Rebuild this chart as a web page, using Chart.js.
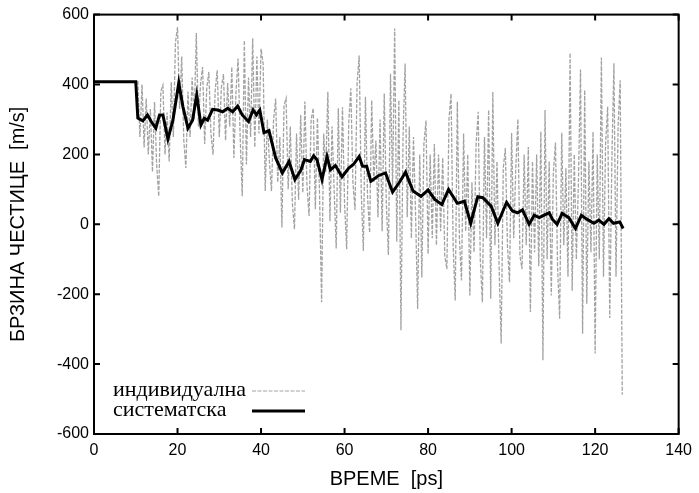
<!DOCTYPE html>
<html>
<head>
<meta charset="utf-8">
<script src="https://cdn.jsdelivr.net/npm/chart.js@4.4.1/dist/chart.umd.min.js"></script>
<style>
  html, body { margin: 0; padding: 0; background: #fff; }
  #wrap { width: 699px; height: 493px; }
</style>
</head>
<body>
<div id="wrap"><canvas id="speedChart" width="699" height="493"></canvas></div>
<script>
// systematic (averaged) particle speed
const sysTime = [0, 10, 10.5, 11.7, 12.8, 13.7, 14.8, 15.7, 16.5, 17.7, 18.9, 20.3, 21.3, 22.5, 23.6, 24.6, 25.6, 26.4, 27.2, 28.4,
  29.6, 30.8, 32, 33.2, 34.4, 35.5, 37, 38.1, 38.9, 39.7, 40.7, 41.9, 43.5, 45.1, 46.7, 48.1, 49.5, 50.4, 51.8, 52.6,
  53.4, 54.6, 55.8, 56.6, 57.8, 59.4, 61, 62.1, 63.5, 64.3, 65.3, 66.3, 68.1, 69.8, 71.5, 73.3, 74.6, 76.4, 78.3, 80,
  81.6, 83.3, 84.9, 87, 88.7, 90.2, 91.9, 93.1, 95.1, 96.7, 98.8, 100.2, 101.4, 102.6, 104.2, 105.4, 106.6, 107.8, 109, 109.8,
  110.9, 112.1, 113.7, 115.3, 116.7, 118.1, 119.7, 120.9, 122.1, 123.3, 124.4, 125.9, 126.7];
const sysSpeed = [408, 408, 304, 296, 313, 294, 275, 313, 313, 244, 298, 405, 336, 275, 298, 370, 284, 303, 298, 329,
  327, 322, 332, 322, 338, 313, 294, 327, 313, 327, 262, 268, 190, 147, 180, 128, 154, 185, 180, 196,
  185, 128, 194, 156, 168, 136, 161, 171, 194, 166, 166, 123, 139, 147, 92, 123, 149, 95, 80, 98,
  71, 57, 100, 60, 66, 3, 79, 76, 52, 3, 63, 38, 33, 41, 0, 26, 19, 26, 33, 14,
  0, 31, 19, -12, 26, 14, 3, 12, 0, 16, 3, 7, -12];

// individual particle speed
const indTime = [0, 10,
  10.5, 11, 11.5, 12, 12.5, 13, 13.5, 14, 14.5, 15, 15.5, 16, 16.5, 17, 17.5, 18, 18.5, 19, 19.5, 20,
  20.5, 21, 21.5, 22, 22.5, 23, 23.5, 24, 24.5, 25, 25.5, 26, 26.5, 27, 27.5, 28, 28.5, 29, 29.5, 30,
  30.5, 31, 31.5, 32, 32.5, 33, 33.5, 34, 34.5, 35, 35.5, 36, 36.5, 37, 37.5, 38, 38.5, 39, 39.5, 40,
  40.5, 41, 41.5, 42, 42.5, 43, 43.5, 44, 44.5, 45, 45.5, 46, 46.5, 47, 47.5, 48, 48.5, 49, 49.5, 50,
  50.5, 51, 51.5, 52, 52.5, 53, 53.5, 54, 54.5, 55, 55.5, 56, 56.5, 57, 57.5, 58, 58.5, 59, 59.5, 60,
  60.5, 61, 61.5, 62, 62.5, 63, 63.5, 64, 64.5, 65, 65.5, 66, 66.5, 67, 67.5, 68, 68.5, 69, 69.5, 70,
  70.5, 71, 71.5, 72, 72.5, 73, 73.5, 74, 74.5, 75, 75.5, 76, 76.5, 77, 77.5, 78, 78.5, 79, 79.5, 80,
  80.5, 81, 81.5, 82, 82.5, 83, 83.5, 84, 84.5, 85, 85.5, 86, 86.5, 87, 87.5, 88, 88.5, 89, 89.5, 90,
  90.5, 91, 91.5, 92, 92.5, 93, 93.5, 94, 94.5, 95, 95.5, 96, 96.5, 97, 97.5, 98, 98.5, 99, 99.5, 100,
  100.5, 101, 101.5, 102, 102.5, 103, 103.5, 104, 104.5, 105, 105.5, 106, 106.5, 107, 107.5, 108, 108.5, 109, 109.5, 110,
  110.5, 111, 111.5, 112, 112.5, 113, 113.5, 114, 114.5, 115, 115.5, 116, 116.5, 117, 117.5, 118, 118.5, 119, 119.5, 120,
  120.5, 121, 121.5, 122, 122.5, 123, 123.5, 124, 124.5, 125, 125.5, 126, 126.5];
const indSpeed = [408, 408,
  410, 250, 400, 220, 360, 200, 330, 150, 350, 170, 80, 380, 398, 200, 320, 180, 407, 250, 520, 564,
  330, 480, 240, 161, 380, 250, 420, 300, 547, 280, 400, 450, 230, 390, 436, 260, 199, 380, 441, 250,
  390, 430, 240, 404, 280, 450, 190, 380, 474, 250, 80, 526, 171, 420, 250, 532, 220, 480, 260, 502,
  460, 95, 300, 180, 95, 300, 360, 120, 250, -9, 340, 360, 100, 280, 60, -14, 260, 70, 313, 90,
  351, 110, 24, 300, 332, 43, 305, 90, -223, 260, 150, 379, 9, 280, 100, -69, 332, 33, 335, 60,
  -71, 290, 389, 120, 41, 405, 483, 90, -76, 365, 80, -24, 355, 120, 240, 20, 300, -20, 374, 60,
  -88, 431, 100, 560, -50, 355, -303, 250, 460, 20, 280, -40, 250, 30, -242, 200, -152, 230, 297, -85,
  200, -40, 230, -60, 200, -20, 190, -90, -128, 300, 374, -60, -218, 351, -40, -161, 260, -20, 200, -204,
  120, -80, 230, 322, -100, -223, 250, -40, 327, -213, 379, -60, 180, -120, -341, 160, 218, -60, -166, 261,
  -40, 160, 301, -90, -128, 200, -60, 221, -251, 180, -80, 200, -120, 265, -389, 327, -100, 180, -204, 150,
  234, -120, -270, 262, -60, 160, -150, 490, -190, 200, -100, 120, 443, -313, 384, -227, 180, -80, 265, -370,
  200, -100, 477, -150, 230, 336, -268, 180, 461, -150, 280, 412, -488];

const seriesNames = ['индивидуална', 'систематска'];
const xTitle = 'ВРЕМЕ  [ps]';
const yTitle = 'БРЗИНА ЧЕСТИЦЕ  [m/s]';

const sansFont = '"Liberation Sans", Arial, sans-serif';
const serifFont = '"Liberation Serif", "Times New Roman", serif';

function toPoints(xs, ys) {
    return xs.map((x, i) => ({ x: x, y: ys[i] }));
}

/** Frame around the plot and tick marks pointing inward on all four sides. */
const frameTicks = {
    id: 'frameTicks',
    afterDatasetsDraw(chart) {
        const { ctx, chartArea: a, scales } = chart;
        const len = 6;
        ctx.save();
        ctx.strokeStyle = '#000';
        ctx.lineWidth = 2;
        ctx.beginPath();
        scales.x.ticks.forEach(t => {
            const px = scales.x.getPixelForValue(t.value);
            ctx.moveTo(px, a.bottom); ctx.lineTo(px, a.bottom - len);
            ctx.moveTo(px, a.top); ctx.lineTo(px, a.top + len);
        });
        scales.y.ticks.forEach(t => {
            const py = scales.y.getPixelForValue(t.value);
            ctx.moveTo(a.left, py); ctx.lineTo(a.left + len, py);
            ctx.moveTo(a.right, py); ctx.lineTo(a.right - len, py);
        });
        ctx.stroke();
        ctx.strokeRect(a.left, a.top, a.right - a.left, a.bottom - a.top);
        ctx.restore();
    }
};

/** Legend in the lower left corner: label first, sample line after it. */
const innerLegend = {
    id: 'innerLegend',
    afterDatasetsDraw(chart) {
        const { ctx, chartArea: a } = chart;
        ctx.save();
        ctx.font = '22px ' + serifFont;
        ctx.fillStyle = '#000';
        ctx.textBaseline = 'middle';
        const rows = [a.bottom - 44, a.bottom - 24];
        chart.data.datasets.forEach((ds, i) => {
            const y = rows[i];
            ctx.fillText(ds.label, a.left + 19, y);
            ctx.beginPath();
            ctx.strokeStyle = ds.borderColor;
            ctx.lineWidth = i === 0 ? 1 : ds.borderWidth;
            ctx.setLineDash(ds.borderDash || []);
            ctx.moveTo(a.left + 158, y + 1);
            ctx.lineTo(a.left + 211, y + 1);
            ctx.stroke();
        });
        ctx.restore();
    }
};

var ctx = document.getElementById('speedChart').getContext('2d');

var speedChart = new Chart(ctx, {
    type: 'line',
    data: {
        datasets: [
            {
                label: seriesNames[0],
                data: toPoints(indTime, indSpeed),
                borderColor: '#a2a2a2',
                borderWidth: 1.3,
                borderDash: [4, 1.5],
                pointRadius: 0,
                tension: 0,
                order: 2
            },
            {
                label: seriesNames[1],
                data: toPoints(sysTime, sysSpeed),
                borderColor: '#000000',
                borderWidth: 3,
                pointRadius: 0,
                tension: 0,
                order: 1
            }
        ]
    },
    options: {
        responsive: false,
        animation: false,
        layout: { padding: { top: 14, right: 17, left: 0, bottom: 0 } },
        plugins: {
            legend: { display: false },
            tooltip: { enabled: false }
        },
        scales: {
            x: {
                type: 'linear',
                min: 0,
                max: 140,
                grid: { display: false, drawTicks: false },
                border: { display: false },
                ticks: { stepSize: 20, padding: 7, color: '#000', font: { family: sansFont, size: 16 } },
                title: { display: true, text: xTitle, color: '#000', font: { family: sansFont, size: 20 }, padding: { top: 0, bottom: 2 } },
                afterFit(scale) { scale.height = 59; }
            },
            y: {
                type: 'linear',
                min: -600,
                max: 600,
                grid: { display: false, drawTicks: false },
                border: { display: false },
                ticks: { stepSize: 200, padding: 5, color: '#000', font: { family: sansFont, size: 16 } },
                title: { display: true, text: yTitle, color: '#000', font: { family: sansFont, size: 20 }, padding: { top: 6, bottom: 0 } },
                afterFit(scale) { scale.width = 94; }
            }
        }
    },
    plugins: [frameTicks, innerLegend]
});
</script>
</body>
</html>
